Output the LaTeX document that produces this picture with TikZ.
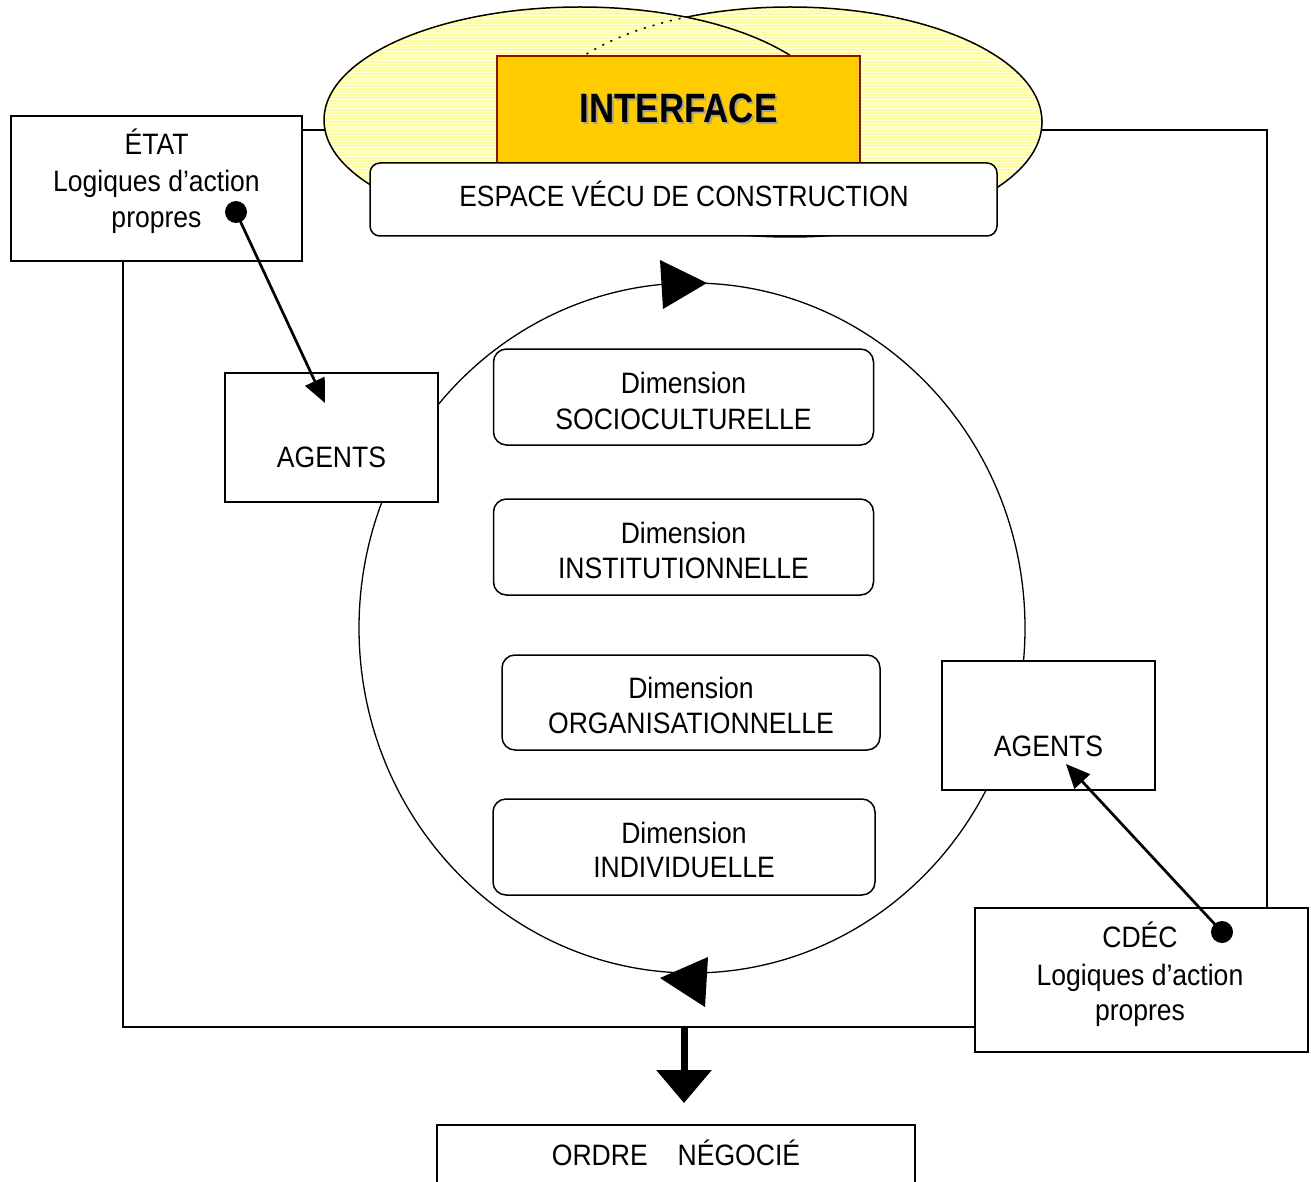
\documentclass[tikz,border=0pt]{standalone}
\usepackage{fontspec}
\setmainfont[FakeStretch=0.9]{Liberation Sans}
\newfontfamily\titlefont[FakeStretch=0.85]{Liberation Sans}
\usetikzlibrary{arrows.meta}
\definecolor{paleyellow}{RGB}{255,255,150}
\definecolor{interfacegold}{RGB}{255,204,0}
\definecolor{interfaceborder}{RGB}{140,20,0}
\definecolor{shadowgray}{RGB}{160,160,170}
\pgfdeclarelayer{back}
\pgfsetlayers{back,main}
\begin{document}
\begin{tikzpicture}[x=1pt,y=-1pt,
  box/.style={draw, line width=1.5pt, fill=white, inner sep=0pt},
  roundbox/.style={box, rounded corners=13pt},
  lbl/.style={anchor=base, inner sep=0pt, font=\fontsize{29.5}{34}\selectfont},
  blob/.style={circle, fill=black, inner sep=0pt, minimum size=22pt},
  link/.style={line width=2.7pt, -{Triangle[length=24pt,width=21pt]}},
  frameline/.style={line width=1.5pt}]
\useasboundingbox (0,0) rectangle (1311,1182);

% ---- two overlapping striped ellipses behind the interface ----
\begin{scope}
  \clip (790,122) ellipse [x radius=252, y radius=115];
  \fill[paleyellow] (790,122) ellipse [x radius=252, y radius=115];
  \foreach \k in {1,...,82} \draw[white, line width=0.9pt] (520,{3*\k}) -- (1060,{3*\k});
\end{scope}
\draw[line width=1.5pt] (790,122) ellipse [x radius=252, y radius=115];
\begin{scope}
  \clip (580,120) ellipse [x radius=256, y radius=113];
  \fill[paleyellow] (580,120) ellipse [x radius=256, y radius=113];
  \foreach \k in {1,...,82} \draw[white, line width=0.9pt] (310,{3*\k}) -- (850,{3*\k});
  % hidden part of the right ellipse
  \draw[line width=1.5pt, dash pattern=on 2pt off 7pt] (790,122) ellipse [x radius=252, y radius=115];
\end{scope}
\draw[line width=1.5pt] (580,120) ellipse [x radius=256, y radius=113];

% ---- interface block ----
\node[draw=interfaceborder, line width=1.6pt, fill=interfacegold, inner sep=0pt,
      minimum width=363pt, minimum height=120pt] (interface) at (678.5,116) {};
\node[anchor=base, inner sep=0pt, text=shadowgray,
      font=\titlefont\bfseries\fontsize{41}{41}\selectfont] (interfaceShadow) at (680.5,125) {INTERFACE};
\node[anchor=base, inner sep=0pt,
      font=\titlefont\bfseries\fontsize{41}{41}\selectfont] (interfaceText) at (678.5,123) {INTERFACE};

\node[roundbox, rounded corners=10pt, minimum width=627pt, minimum height=73pt] (espace) at (683.5,199.5) {};
\node[lbl, font=\fontsize{29.3}{34}\selectfont] (espaceT) at (684,207) {ESPACE VÉCU DE CONSTRUCTION};

% ---- central cycle ----
\draw[line width=1.3pt] (692,628) ellipse [x radius=333, y radius=345];
\fill (660,260) -- (663,309) -- (707,283) -- cycle;
\fill (660,978) -- (708,957) -- (705,1007) -- cycle;

% ---- actor boxes ----
\node[box, minimum width=291pt, minimum height=145pt] (etat) at (156.5,188.5) {};
\node[lbl] (etatT1) at (156.5,155) {ÉTAT};
\node[lbl] (etatT2) at (156.5,192) {Logiques d’action};
\node[lbl] (etatT3) at (156.5,228) {propres};

\node[box, minimum width=333pt, minimum height=144pt] (cdec) at (1141.5,980) {};
\node[lbl] (cdecT1) at (1140,947) {CDÉC};
\node[lbl] (cdecT2) at (1140,985) {Logiques d’action};
\node[lbl] (cdecT3) at (1140,1020) {propres};

\node[box, minimum width=213pt, minimum height=129pt] (agentsL) at (331.5,437.5) {};
\node[lbl] (agentsLT) at (331.5,467) {AGENTS};
\node[box, minimum width=213pt, minimum height=129pt] (agentsR) at (1048.5,725.5) {};
\node[lbl] (agentsRT) at (1048.5,756) {AGENTS};

% ---- dimensions ----
\node[roundbox, minimum width=380pt, minimum height=96pt] (dim1) at (683.5,397) {};
\node[lbl] (dim1a) at (683.5,393) {Dimension};
\node[lbl] (dim1b) at (683.5,429) {SOCIOCULTURELLE};
\node[roundbox, minimum width=380pt, minimum height=96pt] (dim2) at (683.5,547) {};
\node[lbl] (dim2a) at (683.5,543) {Dimension};
\node[lbl] (dim2b) at (683.5,578) {INSTITUTIONNELLE};
\node[roundbox, minimum width=378pt, minimum height=95pt] (dim3) at (691,702.5) {};
\node[lbl] (dim3a) at (691,698) {Dimension};
\node[lbl] (dim3b) at (691,733) {ORGANISATIONNELLE};
\node[roundbox, minimum width=382pt, minimum height=96pt] (dim4) at (684,847) {};
\node[lbl] (dim4a) at (684,843) {Dimension};
\node[lbl] (dim4b) at (684,877) {INDIVIDUELLE};

% ---- influence arrows ----
\node[blob] (etatDot) at (236,212) {};
\coordinate (agentsLIn) at (325,403);
\draw[link] (etatDot.center) -- (agentsLIn);
\node[blob] (cdecDot) at (1222,932) {};
\coordinate (agentsRIn) at (1066,764);
\draw[link] (cdecDot.center) -- (agentsRIn);

% ---- outcome ----
\node[box, minimum width=478pt, minimum height=80pt, anchor=north] (ordre) at (676,1124) {};
\node[lbl] (ordreT) at (676,1165) {ORDRE\hspace{30pt}NÉGOCIÉ};
\coordinate (bottomLeft) at (123,1027);
\coordinate (topRight) at (1267,130);
\coordinate (outTip) at (684,1103);
\draw[line width=7pt, -{Triangle[length=33pt,width=54pt]}] (outTip |- bottomLeft) -- (outTip);

% ---- frame connecting the two actors ----
\begin{pgfonlayer}{back}
  \draw[frameline] (etat.east |- topRight) -- (topRight) -- (topRight |- cdec.north);
  \draw[frameline] (bottomLeft |- etat.south) -- (bottomLeft) -- (bottomLeft -| cdec.west);
\end{pgfonlayer}
\end{tikzpicture}
\end{document}
